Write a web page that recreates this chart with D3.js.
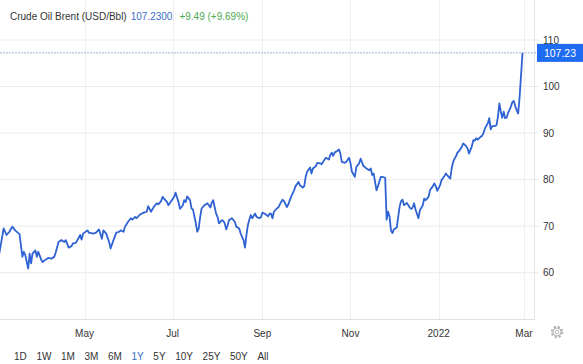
<!DOCTYPE html>
<html lang="en">
<head>
  <meta charset="UTF-8">
  <title>Crude Oil Brent</title>
  <script src="https://d3js.org/d3.v7.min.js"></script>
  <style>
    * { margin: 0; padding: 0; box-sizing: border-box; }
    body { background: #fff; overflow: hidden; }
    svg { display: block; font-family: "Liberation Sans", Arial, Helvetica, sans-serif; }
  </style>
</head>
<body>
  <svg id="chart"></svg>
  <script>
    // Brent daily closes
    const brent = [
      ["2021-03-03", 64.1], ["2021-03-06", 69.5], ["2021-03-08", 68.1], ["2021-03-10", 68.8],
      ["2021-03-12", 69.9], ["2021-03-14", 69.1], ["2021-03-17", 68.3], ["2021-03-19", 63.4],
      ["2021-03-20", 64.5], ["2021-03-21", 63.8], ["2021-03-23", 60.9], ["2021-03-24", 64.1],
      ["2021-03-25", 62.0], ["2021-03-26", 64.1], ["2021-03-28", 64.8], ["2021-03-29", 63.4],
      ["2021-03-30", 64.5], ["2021-04-01", 62.8], ["2021-04-02", 62.3], ["2021-04-04", 62.8],
      ["2021-04-06", 63.2], ["2021-04-08", 63.0], ["2021-04-10", 63.4], ["2021-04-11", 64.3],
      ["2021-04-13", 66.6], ["2021-04-15", 67.0], ["2021-04-17", 66.6], ["2021-04-18", 67.0],
      ["2021-04-20", 65.4], ["2021-04-22", 65.7], ["2021-04-23", 66.3], ["2021-04-25", 66.4],
      ["2021-04-28", 68.1], ["2021-04-29", 67.1], ["2021-04-30", 68.4], ["2021-05-03", 69.1],
      ["2021-05-04", 68.6], ["2021-05-07", 68.4], ["2021-05-09", 68.6], ["2021-05-11", 69.3],
      ["2021-05-13", 67.3], ["2021-05-14", 69.1], ["2021-05-16", 68.4], ["2021-05-18", 66.6],
      ["2021-05-19", 65.2], ["2021-05-21", 67.0], ["2021-05-23", 68.6], ["2021-05-25", 68.8],
      ["2021-05-26", 69.1], ["2021-05-28", 68.8], ["2021-05-29", 69.9], ["2021-05-31", 70.9],
      ["2021-06-02", 71.7], ["2021-06-03", 71.4], ["2021-06-05", 72.0], ["2021-06-06", 71.7],
      ["2021-06-08", 72.4], ["2021-06-09", 72.6], ["2021-06-11", 72.9], ["2021-06-13", 73.1],
      ["2021-06-14", 74.3], ["2021-06-16", 73.1], ["2021-06-18", 74.2], ["2021-06-20", 74.9],
      ["2021-06-21", 74.7], ["2021-06-23", 75.4], ["2021-06-24", 76.3], ["2021-06-25", 75.9],
      ["2021-06-27", 75.2], ["2021-06-28", 74.5], ["2021-06-30", 75.4], ["2021-07-02", 76.3],
      ["2021-07-03", 77.2], ["2021-07-05", 75.2], ["2021-07-06", 73.7], ["2021-07-08", 74.5],
      ["2021-07-09", 75.6], ["2021-07-10", 75.2], ["2021-07-11", 76.4], ["2021-07-13", 75.6],
      ["2021-07-14", 73.8], ["2021-07-15", 73.6], ["2021-07-17", 70.6], ["2021-07-18", 68.8],
      ["2021-07-19", 69.5], ["2021-07-20", 72.0], ["2021-07-21", 73.8], ["2021-07-23", 74.5],
      ["2021-07-25", 74.9], ["2021-07-26", 74.5], ["2021-07-27", 74.0], ["2021-07-28", 75.0],
      ["2021-07-29", 75.6], ["2021-07-31", 72.7], ["2021-08-01", 72.0], ["2021-08-02", 70.6],
      ["2021-08-04", 71.3], ["2021-08-05", 71.1], ["2021-08-06", 70.6], ["2021-08-07", 69.3],
      ["2021-08-08", 70.2], ["2021-08-09", 71.3], ["2021-08-11", 71.7], ["2021-08-13", 70.9],
      ["2021-08-14", 69.9], ["2021-08-16", 69.5], ["2021-08-17", 68.4], ["2021-08-19", 67.0],
      ["2021-08-20", 65.4], ["2021-08-21", 68.1], ["2021-08-22", 70.2], ["2021-08-23", 71.4],
      ["2021-08-24", 72.4], ["2021-08-25", 71.7], ["2021-08-27", 72.7], ["2021-08-28", 72.0],
      ["2021-08-30", 71.7], ["2021-08-31", 71.9], ["2021-09-01", 72.9], ["2021-09-03", 72.6],
      ["2021-09-05", 72.1], ["2021-09-06", 72.7], ["2021-09-07", 72.7], ["2021-09-08", 71.7],
      ["2021-09-09", 73.1], ["2021-09-11", 73.8], ["2021-09-12", 74.0], ["2021-09-14", 75.2],
      ["2021-09-15", 75.7], ["2021-09-16", 75.4], ["2021-09-18", 74.1], ["2021-09-19", 74.7],
      ["2021-09-21", 76.4], ["2021-09-23", 77.7], ["2021-09-24", 78.6], ["2021-09-26", 79.5],
      ["2021-09-27", 78.8], ["2021-09-29", 78.3], ["2021-09-30", 78.6], ["2021-10-01", 80.6],
      ["2021-10-02", 81.7], ["2021-10-04", 82.6], ["2021-10-05", 81.3], ["2021-10-06", 82.4],
      ["2021-10-08", 82.9], ["2021-10-09", 83.6], ["2021-10-11", 83.5], ["2021-10-12", 83.3],
      ["2021-10-14", 84.3], ["2021-10-15", 84.7], ["2021-10-17", 84.3], ["2021-10-18", 85.3],
      ["2021-10-19", 85.8], ["2021-10-20", 85.1], ["2021-10-21", 85.8], ["2021-10-23", 86.2],
      ["2021-10-24", 86.5], ["2021-10-25", 85.6], ["2021-10-26", 83.8], ["2021-10-28", 83.6],
      ["2021-10-29", 83.8], ["2021-10-31", 84.7], ["2021-11-01", 83.5], ["2021-11-02", 81.7],
      ["2021-11-04", 80.6], ["2021-11-05", 82.7], ["2021-11-07", 83.5], ["2021-11-08", 84.5],
      ["2021-11-10", 82.9], ["2021-11-11", 82.7], ["2021-11-12", 82.4], ["2021-11-14", 82.0],
      ["2021-11-15", 82.4], ["2021-11-16", 81.0], ["2021-11-17", 81.3], ["2021-11-18", 79.5],
      ["2021-11-19", 77.7], ["2021-11-20", 78.6], ["2021-11-22", 80.6], ["2021-11-23", 80.6],
      ["2021-11-25", 80.4], ["2021-11-26", 71.4], ["2021-11-27", 73.1], ["2021-11-28", 72.1],
      ["2021-11-29", 69.1], ["2021-11-30", 68.5], ["2021-12-01", 69.3], ["2021-12-03", 69.7],
      ["2021-12-04", 72.0], ["2021-12-05", 74.2], ["2021-12-06", 75.4], ["2021-12-07", 75.7],
      ["2021-12-08", 74.5], ["2021-12-10", 75.0], ["2021-12-11", 74.5], ["2021-12-12", 74.0],
      ["2021-12-13", 73.7], ["2021-12-14", 74.0], ["2021-12-15", 74.9], ["2021-12-16", 73.6],
      ["2021-12-18", 71.7], ["2021-12-19", 73.4], ["2021-12-21", 74.5], ["2021-12-22", 75.9],
      ["2021-12-23", 75.6], ["2021-12-25", 76.3], ["2021-12-26", 77.7], ["2021-12-28", 78.6],
      ["2021-12-29", 79.2], ["2021-12-30", 78.6], ["2021-12-31", 77.6], ["2022-01-02", 78.8],
      ["2022-01-03", 79.9], ["2022-01-05", 80.8], ["2022-01-06", 81.3], ["2022-01-07", 80.9],
      ["2022-01-09", 80.2], ["2022-01-10", 82.4], ["2022-01-11", 83.8], ["2022-01-12", 84.5],
      ["2022-01-13", 85.0], ["2022-01-14", 85.8], ["2022-01-15", 86.1], ["2022-01-17", 87.0],
      ["2022-01-18", 87.8], ["2022-01-20", 87.2], ["2022-01-21", 86.7], ["2022-01-22", 85.6],
      ["2022-01-24", 87.2], ["2022-01-25", 88.5], ["2022-01-26", 88.4], ["2022-01-27", 88.9],
      ["2022-01-28", 88.6], ["2022-01-30", 89.2], ["2022-01-31", 89.4], ["2022-02-01", 90.0],
      ["2022-02-02", 91.0], ["2022-02-04", 92.1], ["2022-02-05", 93.2], ["2022-02-06", 90.8],
      ["2022-02-07", 91.5], ["2022-02-09", 91.5], ["2022-02-10", 91.7], ["2022-02-11", 93.5],
      ["2022-02-12", 96.4], ["2022-02-13", 94.6], ["2022-02-14", 93.3], ["2022-02-15", 94.6],
      ["2022-02-16", 93.2], ["2022-02-17", 93.3], ["2022-02-18", 94.3], ["2022-02-20", 95.7],
      ["2022-02-21", 96.7], ["2022-02-22", 96.9], ["2022-02-23", 95.8], ["2022-02-24", 94.9],
      ["2022-02-25", 94.2], ["2022-02-26", 97.7], ["2022-02-28", 107.23]
    ];

    const yTicks = [60, 70, 80, 90, 100, 110];
    const xTickDates = ["2021-05-01", "2021-07-01", "2021-09-01", "2021-11-01", "2022-01-01", "2022-03-01"];
    const xTickLabels = ["May", "Jul", "Sep", "Nov", "2022", "Mar"];
    const ranges = ["1D", "1W", "1M", "3M", "6M", "1Y", "5Y", "10Y", "25Y", "50Y", "All"];
    const activeRange = "1Y";
    const lastPrice = 107.23;
    const header = [
      { text: "Crude Oil Brent (USD/Bbl)", color: "#333" },
      { text: "107.2300", color: "#3b6cc9" },
      { text: "+9.49 (+9.69%)", color: "#4caa4f" }
    ];

    const W = 583, H = 364;
    const plot = { left: 0, right: 534, top: 0, bottom: 319 };
    const parse = d3.timeParse("%Y-%m-%d");
    const data = brent.map(d => ({ date: parse(d[0]), value: d[1] }));

    const svg = d3.select('#chart').attr('width', W).attr('height', H);

    const x = d3.scaleTime()
      .domain([new Date(2021, 2, 3, 12), new Date(2022, 2, 7, 23)])
      .range([plot.left, plot.right]);
    const y = d3.scaleLinear()
      .domain([60, 110])
      .range([272.7, 40]);

    // grid
    const grid = svg.append('g');
    grid.selectAll('line.h')
      .data(yTicks)
      .join('line')
      .attr('x1', plot.left).attr('x2', 539)
      .attr('y1', d => y(d)).attr('y2', d => y(d))
      .attr('stroke', '#ebebeb').attr('stroke-width', 1);

    grid.selectAll('line.v')
      .data(xTickDates.map(parse))
      .join('line')
      .attr('x1', d => Math.round(x(d)) + 0.5).attr('x2', d => Math.round(x(d)) + 0.5)
      .attr('y1', plot.top).attr('y2', plot.bottom)
      .attr('stroke', '#efefef').attr('stroke-width', 1);

    // frame: right edge + baseline
    svg.append('line')
      .attr('x1', plot.right + 0.5).attr('x2', plot.right + 0.5)
      .attr('y1', plot.top).attr('y2', plot.bottom)
      .attr('stroke', '#e4e4e4');
    svg.append('line')
      .attr('x1', plot.left).attr('x2', plot.right + 1)
      .attr('y1', plot.bottom + 0.5).attr('y2', plot.bottom + 0.5)
      .attr('stroke', '#e0e0e0');

    // last price guide
    svg.append('line')
      .attr('x1', plot.left).attr('x2', 537)
      .attr('y1', y(lastPrice)).attr('y2', y(lastPrice))
      .attr('stroke', '#9fb3cf').attr('stroke-width', 1)
      .attr('stroke-dasharray', '2,1');

    // y labels
    svg.append('g').selectAll('text')
      .data(yTicks)
      .join('text')
      .attr('x', 543)
      .attr('y', d => y(d))
      .attr('dy', '0.35em')
      .attr('font-size', 10)
      .attr('fill', '#333')
      .text(d => d);

    // line
    const line = d3.line()
      .x(d => x(d.date))
      .y(d => y(d.value));

    svg.append('path')
      .datum(data)
      .attr('fill', 'none')
      .attr('stroke', '#2f62d3')
      .attr('stroke-width', 1.8)
      .attr('stroke-linejoin', 'round')
      .attr('d', line);

    // price tag
    const tag = svg.append('g').attr('transform', `translate(537,${y(lastPrice)})`);
    tag.append('rect')
      .attr('x', 0).attr('y', -9)
      .attr('width', 46).attr('height', 18)
      .attr('fill', '#1f6cf2');
    tag.append('text')
      .attr('x', 23).attr('y', 0)
      .attr('dy', '0.35em')
      .attr('text-anchor', 'middle')
      .attr('font-size', 10.5)
      .attr('fill', '#fff')
      .text(lastPrice.toFixed(2));

    // x labels
    svg.append('g').selectAll('text')
      .data(xTickDates)
      .join('text')
      .attr('x', d => x(parse(d)))
      .attr('y', 333)
      .attr('dy', '0.35em')
      .attr('text-anchor', 'middle')
      .attr('font-size', 10)
      .attr('fill', '#333')
      .text((d, i) => xTickLabels[i]);

    // settings gear
    const gear = svg.append('g').attr('transform', 'translate(557,332)');
    gear.append('circle').attr('r', 5.2)
      .attr('fill', 'none').attr('stroke', '#b5b5b5').attr('stroke-width', 2.2)
      .attr('stroke-dasharray', '2.2,1.9');
    gear.append('circle').attr('r', 4)
      .attr('fill', '#fff').attr('stroke', '#b5b5b5').attr('stroke-width', 1);
    gear.append('circle').attr('r', 1.8)
      .attr('fill', 'none').attr('stroke', '#b5b5b5').attr('stroke-width', 1);

    // header
    const title = svg.append('text')
      .attr('x', 10).attr('y', 16)
      .attr('dy', '0.35em')
      .attr('font-size', 10);
    header.forEach((h, i) => {
      title.append('tspan')
        .attr('dx', i === 0 ? 0 : (i === 1 ? 4 : 7))
        .attr('fill', h.color)
        .text(h.text);
    });

    // range buttons
    let bx = 14;
    const btns = svg.append('g');
    ranges.forEach(r => {
      const t = btns.append('text')
        .attr('x', bx).attr('y', 356)
        .attr('dy', '0.35em')
        .attr('font-size', 10)
        .attr('fill', r === activeRange ? '#3b6cc9' : '#333')
        .text(r);
      bx += t.node().getComputedTextLength() + 9.6;
    });
  </script>
</body>
</html>
